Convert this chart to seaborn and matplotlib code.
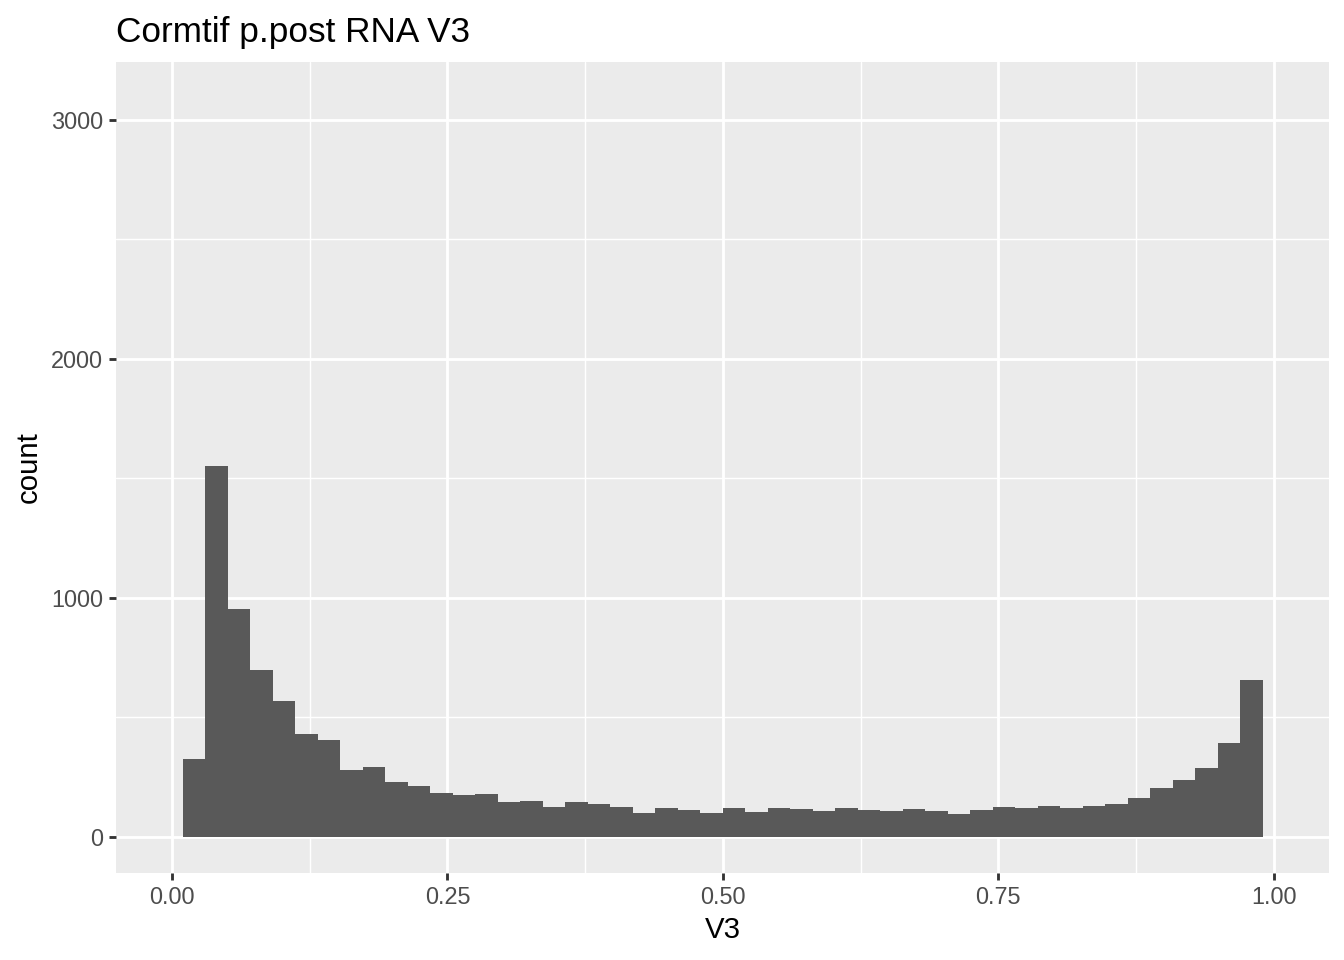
import numpy as np
import pandas as pd
import matplotlib
matplotlib.use("Agg")
import matplotlib.pyplot as plt
import seaborn as sns

# ---- data ----
title = "Cormtif p.post RNA V3"
x_label = "V3"
y_label = "count"
bin_start = 0.01
bin_end = 0.99
n_bins = 48
counts = [325, 1552, 953, 697, 568, 430, 405, 279, 292, 229, 213, 184,
          175, 179, 145, 149, 124, 145, 137, 124, 99, 120, 112, 99,
          120, 103, 120, 116, 107, 120, 112, 107, 116, 107, 95, 112,
          124, 120, 128, 120, 128, 137, 162, 204, 237, 287, 392, 655]
x_ticks = [0.0, 0.25, 0.5, 0.75, 1.0]
x_ticklabels = ["0.00", "0.25", "0.50", "0.75", "1.00"]
y_ticks = [0, 1000, 2000, 3000]
y_ticklabels = ["0", "1000", "2000", "3000"]

edges = np.linspace(bin_start, bin_end, n_bins + 1)
centers = (edges[:-1] + edges[1:]) / 2
df = pd.DataFrame({"V3": centers, "count": counts})

sns.set_theme(style="darkgrid")
plt.rcParams["font.family"] = ["Liberation Sans", "DejaVu Sans"]

W, H, DPI = 1344, 960, 192
fig = plt.figure(figsize=(W / DPI, H / DPI), dpi=DPI)
left, right, top, bottom = 116, 1329, 62, 872.7
ax = fig.add_axes([left / W, 1 - bottom / H, (right - left) / W, (bottom - top) / H])
ax.set_facecolor("#EBEBEB")

sns.histplot(data=df, x="V3", weights="count", bins=list(edges), ax=ax,
             color="#595959", alpha=1, linewidth=0, edgecolor="none")

ax.set_xlim(-0.0508, 1.0502)
ax.set_ylim(-150.7, 3243)

ax.set_xticks(x_ticks)
ax.set_xticklabels(x_ticklabels)
ax.set_yticks(y_ticks)
ax.set_yticklabels(y_ticklabels)
ax.set_xticks([0.125, 0.375, 0.625, 0.875], minor=True)
ax.set_yticks([500, 1500, 2500], minor=True)

ax.grid(which="major", color="white", linewidth=1.07)
ax.grid(which="minor", color="white", linewidth=0.53)
ax.set_axisbelow(True)
for s in ax.spines.values():
    s.set_visible(False)

ax.tick_params(axis="both", which="major", length=2.75, width=1.07,
               color="#333333", labelcolor="#4D4D4D", labelsize=8.8, pad=2.2)
ax.tick_params(axis="both", which="minor", length=0)
ax.tick_params(axis="x", bottom=True)
ax.tick_params(axis="y", left=True)

ax.set_xlabel(x_label, fontsize=11, color="black", labelpad=2.75)
ax.set_ylabel(y_label, fontsize=11, color="black", labelpad=3.0)
ax.set_title(title, loc="left", fontsize=13.2, color="black", pad=7.5)

fig.savefig("out.png", dpi=DPI)
